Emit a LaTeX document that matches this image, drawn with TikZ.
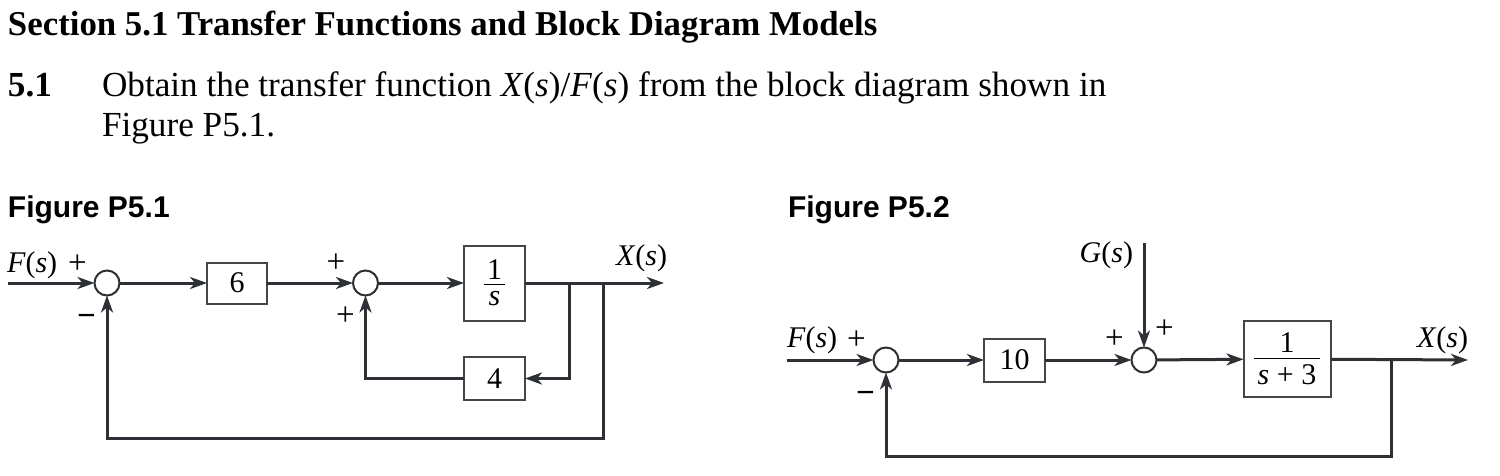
\documentclass[tikz,border=0pt]{standalone}
\usepackage{fontspec}
\setmainfont{Liberation Serif}
\newfontfamily\figfont{Liberation Sans}
\usetikzlibrary{arrows.meta}
\definecolor{linecol}{RGB}{45,48,52}
\definecolor{boxcol}{RGB}{70,70,70}
% stacked fraction set in the text font: numerator, denominator, gap above bar, gap below bar
\newcommand\blkfraction[4]{%
  \begingroup
  \setbox0=\hbox{#1}\setbox2=\hbox{#2}%
  \dimen0=\wd0 \ifdim\wd2>\dimen0 \dimen0=\wd2 \fi
  \advance\dimen0 by 3.4pt
  \vbox{\hbox to\dimen0{\hss\box0\hss}\kern#3\hrule height 0.75pt\kern#4\hbox to\dimen0{\hss\box2\hss}}%
  \endgroup}
\tikzset{
  conn/.style={draw=linecol, line width=1.5pt, -{Stealth[length=8.5pt,width=6pt,inset=2.5pt]}},
  blk/.style={rectangle, draw=boxcol, line width=1pt, fill=white, inner sep=0pt, outer sep=0pt, font=\fontsize{15}{18}\selectfont},
  summer/.style={circle, draw=linecol, line width=1pt, fill=white, minimum size=12.5pt, inner sep=0pt, outer sep=0pt},
  lbl/.style={inner sep=0pt, outer sep=0pt, font=\fontsize{15}{18}\selectfont},
  sign/.style={inner sep=0pt, outer sep=0pt, anchor=base, font=\fontsize{16.5}{18}\selectfont},
  headtxt/.style={inner sep=0pt, outer sep=0pt, anchor=base west},
}
\begin{document}
\begin{tikzpicture}[x=0.5pt, y=-0.5pt]
\useasboundingbox (0,0) rectangle (1500,476);

% ---------- text ----------
\node[headtxt, font=\fontsize{17.4}{20}\selectfont\bfseries] (title) at (8,36) {Section 5.1 Transfer Functions and Block Diagram Models};
\node[headtxt, font=\fontsize{17.6}{20}\selectfont\bfseries] (pnum) at (8,97) {5.1};
\node[headtxt, font=\fontsize{17.6}{20}\selectfont] (ptext1) at (102,97) {Obtain the transfer function \textit{X}(\textit{s})/\textit{F}(\textit{s}) from the block diagram shown in};
\node[headtxt, font=\fontsize{17.6}{20}\selectfont] (ptext2) at (102,137) {Figure P5.1.};
\node[headtxt, font=\fontsize{15}{18}\selectfont\figfont\bfseries] (figA) at (8,217) {Figure P5.1};
\node[headtxt, font=\fontsize{15}{18}\selectfont\figfont\bfseries] (figB) at (788,217) {Figure P5.2};

% ---------- Figure P5.1 ----------
\coordinate (in1) at (8,283);
\node[summer] (s1) at (107,283) {};
\node[blk, minimum width=30pt, minimum height=20.5pt] (b6) at (237,283) {6};
\node[summer] (s2) at (365.5,283) {};
\node[blk, minimum width=30.5pt, minimum height=37.5pt] (b1s) at (494.5,283) {\blkfraction{1}{\textit{s}}{2pt}{3pt}};
\node[blk, minimum width=30.5pt, minimum height=21.5pt] (b4) at (494.5,378.5) {4};
\coordinate (br1) at (569,283);
\coordinate (br2) at (603,283);
\coordinate (fb1) at (603,438);
\coordinate (out1) at (664,283);

\draw[conn] (in1) -- (s1);
\draw[conn] (s1) -- (b6);
\draw[conn] (b6) -- (s2);
\draw[conn] (s2) -- (b1s);
\draw[conn] (b1s) -- (out1);
\draw[conn] (br1) |- (b4);
\draw[conn] (b4) -| (s2);
\draw[conn] (br2) -- (fb1) -| (s1);

\node[lbl, anchor=base west] (Fa) at (7,272) {\textit{F}(\textit{s})};
\node[lbl, anchor=base east] (Xa) at (667,265) {\textit{X}(\textit{s})};
\node[sign] (pa1) at (77.5,273) {+};
\node[sign] (ma1) at (86.5,326) {\textbf{−}};
\node[sign] (pa2) at (336,272) {+};
\node[sign] (pa3) at (345.5,325) {+};

% ---------- Figure P5.2 ----------
\coordinate (in2) at (787,360);
\node[summer] (sA) at (886,360) {};
\node[blk, minimum width=30.5pt, minimum height=21.5pt] (b10) at (1014.5,360) {10};
\node[summer] (sB) at (1144,360) {};
\node[blk, minimum width=43.5pt, minimum height=38pt] (b13) at (1287,359) {\blkfraction{1}{\textit{s} + 3}{2.5pt}{3pt}};
\coordinate (gin) at (1144,243);
\coordinate (br3) at (1391,360);
\coordinate (fb2) at (1391,456);
\coordinate (out2) at (1468,360);

\draw[conn] (in2) -- (sA);
\draw[conn] (sA) -- (b10);
\draw[conn] (b10) -- (sB);
\draw[conn] (gin) -- (sB);
\draw[conn] (sB) -- (b13);
\draw[conn] (b13) -- (out2);
\draw[conn] (br3) -- (fb2) -| (sA);

\node[lbl, anchor=base west] (Fb) at (787,347) {\textit{F}(\textit{s})};
\node[lbl, anchor=base east] (Xb) at (1468,347) {\textit{X}(\textit{s})};
\node[lbl, anchor=base east] (Gb) at (1133,262) {\textit{G}(\textit{s})};
\node[sign] (pb1) at (856.5,349) {+};
\node[sign] (mb1) at (865.5,403) {\textbf{−}};
\node[sign] (pb2) at (1114.5,348) {+};
\node[sign] (pb3) at (1164.5,338) {+};
\end{tikzpicture}
\end{document}
